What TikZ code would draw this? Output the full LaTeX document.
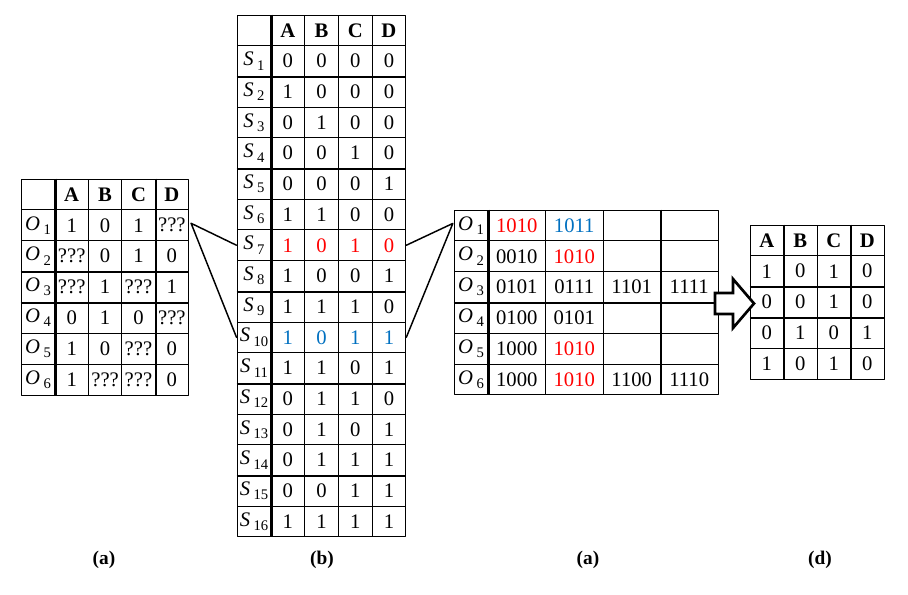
\documentclass[tikz,border=0pt]{standalone}
\usepackage{amsmath}
\usepackage{fontspec}
\setmainfont{Liberation Serif}
\definecolor{hired}{RGB}{255,0,0}
\definecolor{hiblue}{RGB}{0,112,192}
\newcommand{\rowlbl}[2]{\textit{#1}\,\raisebox{-0.45ex}{\fontsize{11}{12}\selectfont#2}}
\tikzset{
	cell/.style n args={2}{draw, line width=0.75pt, inner sep=0pt, minimum width=#1*0.75pt, minimum height=#2*0.75pt},
	bar/.style={line width=1.8pt, line cap=butt},
	hd/.style={font=\fontsize{15.5}{18}\selectfont\bfseries},
	captext/.style={font=\fontsize{14.5}{16}\selectfont\bfseries},
	link/.style={line width=1.1pt},
}
\begin{document}
\begin{tikzpicture}[x=0.75pt,y=-0.75pt, font=\fontsize{15.5}{18}\selectfont, line join=round, line cap=round]
	\useasboundingbox (0,0) rectangle (908,594);
	% table (a)
	\def\xA{21} \def\yA{179} \def\lA{34} \def\wA{33.4} \def\hA{30.86}
	\node[cell={\lA}{\hA}] (a-0-0) at (\xA+\lA/2,\yA+\hA/2) {};
	\foreach \t [count=\c] in {A,B,C,D}
		\node[cell={\wA}{\hA},hd] (a-0-\c) at (\xA+\lA+\c*\wA-\wA/2,\yA+\hA/2) {\t};
	\foreach \r/\vals in {1/{1,0,1,???},2/{???,0,1,0},3/{???,1,???,1},4/{0,1,0,???},5/{1,0,???,0},6/{1,???,???,0}} {
		\node[cell={\lA}{\hA}] (a-\r-0) at (\xA+\lA/2,\yA+\r*\hA+\hA/2) {\rowlbl{O}{\r}};
		\foreach \v [count=\c] in \vals
			\node[cell={\wA}{\hA}] (a-\r-\c) at (\xA+\lA+\c*\wA-\wA/2,\yA+\r*\hA+\hA/2) {\v};
	}
	\draw[bar] (a-0-0.north east)--(a-6-0.south east);
	\draw[bar] (a-0-3.north east)--(a-6-3.south east);
	\draw[bar] (a-2-0.south west)--(a-2-4.south east);
	\draw[bar] (a-3-0.south west)--(a-3-4.south east);
	% table (b)
	\def\xB{237} \def\yB{15} \def\lB{34} \def\wB{33.7} \def\hB{30.7}
	\node[cell={\lB}{\hB}] (b-0-0) at (\xB+\lB/2,\yB+\hB/2) {};
	\foreach \t [count=\c] in {A,B,C,D}
		\node[cell={\wB}{\hB},hd] (b-0-\c) at (\xB+\lB+\c*\wB-\wB/2,\yB+\hB/2) {\t};
	\foreach \r/\vals/\cl in {1/{0,0,0,0}/black,2/{1,0,0,0}/black,3/{0,1,0,0}/black,4/{0,0,1,0}/black,
		5/{0,0,0,1}/black,6/{1,1,0,0}/black,7/{1,0,1,0}/hired,8/{1,0,0,1}/black,
		9/{1,1,1,0}/black,10/{1,0,1,1}/hiblue,11/{1,1,0,1}/black,12/{0,1,1,0}/black,
		13/{0,1,0,1}/black,14/{0,1,1,1}/black,15/{0,0,1,1}/black,16/{1,1,1,1}/black} {
		\node[cell={\lB}{\hB}] (b-\r-0) at (\xB+\lB/2,\yB+\r*\hB+\hB/2) {\rowlbl{S}{\r}};
		\foreach \v [count=\c] in \vals
			\node[cell={\wB}{\hB},text=\cl] (b-\r-\c) at (\xB+\lB+\c*\wB-\wB/2,\yB+\r*\hB+\hB/2) {\v};
	}
	\draw[bar] (b-0-0.north east)--(b-16-0.south east);
	\foreach \r in {1,4,8,11,14}
		\draw[bar] (b-\r-0.south west)--(b-\r-4.south east);
	% table (c)
	\def\xC{454} \def\yC{210} \def\lC{34} \def\wC{57.5} \def\hC{30.83}
	\foreach \r/\vals in {1/{1010/hired,1011/hiblue,/black,/black},2/{0010/black,1010/hired,/black,/black},
		3/{0101/black,0111/black,1101/black,1111/black},4/{0100/black,0101/black,/black,/black},
		5/{1000/black,1010/hired,/black,/black},6/{1000/black,1010/hired,1100/black,1110/black}} {
		\node[cell={\lC}{\hC}] (c-\r-0) at (\xC+\lC/2,\yC+\r*\hC-\hC/2) {\rowlbl{O}{\r}};
		\foreach \v/\cl [count=\c] in \vals
			\node[cell={\wC}{\hC},text=\cl] (c-\r-\c) at (\xC+\lC+\c*\wC-\wC/2,\yC+\r*\hC-\hC/2) {\v};
	}
	\draw[bar] (c-1-0.north east)--(c-6-0.south east);
	\draw[bar] (c-1-3.north east)--(c-6-3.south east);
	\draw[bar] (c-3-0.south west)--(c-3-4.south east);
	% table (d)
	\def\xD{750} \def\yD{225} \def\wD{33.5} \def\hD{30.8}
	\foreach \t [count=\c] in {A,B,C,D}
		\node[cell={\wD}{\hD},hd] (d-0-\c) at (\xD+\c*\wD-\wD/2,\yD+\hD/2) {\t};
	\foreach \r/\vals in {1/{1,0,1,0},2/{0,0,1,0},3/{0,1,0,1},4/{1,0,1,0}}
		\foreach \v [count=\c] in \vals
			\node[cell={\wD}{\hD}] (d-\r-\c) at (\xD+\c*\wD-\wD/2,\yD+\r*\hD+\hD/2) {\v};
	\draw[bar] (d-0-1.north east)--(d-4-1.south east);
	\draw[bar] (d-0-3.north east)--(d-4-3.south east);
	\draw[bar] (d-1-1.south west)--(d-1-4.south east);
	\draw[bar] (d-2-1.south west)--(d-2-4.south east);
	% links
	\draw[link] (b-7-0.west)--([xshift=1.5pt,yshift=1.5pt]a-1-4.east)--(b-10-0.west);
	\draw[link] (b-7-4.east)--([xshift=-0.5pt,yshift=1.5pt]c-1-0.west)--(b-10-4.east);
	\draw[line width=2pt, fill=white, line join=miter] (715,293)--(733,293)--(733,279)--(754,303.5)--(733,328)--(733,314)--(715,314)--cycle;
	% captions
	\node[captext] (capa) at (104,560) {(a)};
	\node[captext] (capb) at (322,560) {(b)};
	\node[captext] (capc) at (588,560) {(a)};
	\node[captext] (capd) at (820,560) {(d)};
\end{tikzpicture}
\end{document}
